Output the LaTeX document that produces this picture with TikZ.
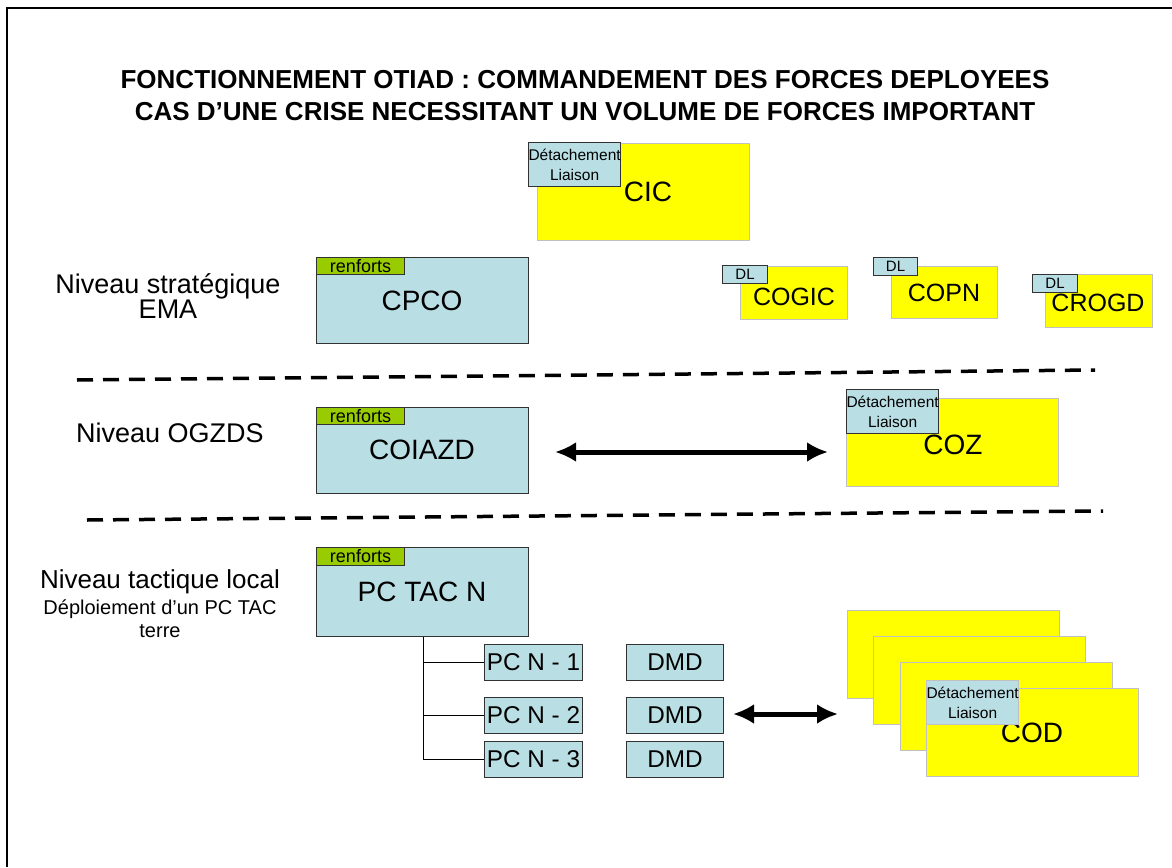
\documentclass[tikz,border=0pt]{standalone}
\usepackage{fontspec}
\setmainfont{Liberation Sans}
\usetikzlibrary{arrows.meta}
\definecolor{lblue}{RGB}{185,223,228}
\definecolor{tabgreen}{RGB}{153,204,0}
\definecolor{ygray}{RGB}{192,192,192}
\definecolor{bgray}{RGB}{50,50,50}
\definecolor{pyellow}{RGB}{255,255,0}
\newcommand{\fs}[1]{\fontsize{#1}{#1}\selectfont}
\begin{document}
\begin{tikzpicture}[x=1pt,y=-1pt,
  ybox/.style={draw=ygray, line width=1pt, fill=pyellow, inner sep=0pt, anchor=north west},
  bbox/.style={draw=bgray, line width=1pt, fill=lblue, inner sep=0pt, anchor=north west},
  tabbox/.style={draw=bgray, line width=1pt, fill=tabgreen, inner sep=0pt, anchor=north west, minimum width=88pt, minimum height=17pt, font=\fs{18}},
  dlbox/.style={bbox, minimum width=89pt, minimum height=44pt, align=center, font=\fontsize{15.5}{20}\selectfont},
  dlsmall/.style={bbox, minimum width=45pt, minimum height=18pt, font=\fs{15}},
  big/.style={font=\fs{28}},
  mid/.style={font=\fs{25}},
  small/.style={bbox, minimum width=98pt, minimum height=36pt, font=\fs{24.3}},
  lvl/.style={font=\fontsize{27}{25}\selectfont, align=center},
  dashline/.style={line width=3.5pt, dash pattern=on 16pt off 10pt},
  bigarrow/.style={line width=5pt, {Latex[length=21pt,width=20pt]}-{Latex[length=21pt,width=20pt]}},
  tree/.style={line width=1pt}]
\useasboundingbox (0,0) rectangle (1172,867);
% frame (top and left)
\draw[line width=2pt] (1172,8) -- (7,8) -- (7,867);
% title
\node[font=\bfseries\fs{26}, align=center] (title) at (585,96) {FONCTIONNEMENT OTIAD : COMMANDEMENT DES FORCES DEPLOYEES\\[6pt]CAS D’UNE CRISE NECESSITANT UN VOLUME DE FORCES IMPORTANT};
% level labels
\node[lvl] (l1) at (168,296) {Niveau stratégique\\EMA};
\node[lvl] (l2) at (170,433) {Niveau OGZDS};
\node[lvl, font=\fs{26}] (l3) at (160,582) {Niveau tactique local};
\node[font=\fontsize{20}{23}\selectfont, align=center] (l3b) at (160,619) {Déploiement d’un PC TAC\\terre};
% dashed separators
\coordinate (d1a) at (77,380); \coordinate (d1b) at (1095,370);
\coordinate (d2a) at (87,520); \coordinate (d2b) at (1103,511);
\draw[dashline] (d1a) -- (d1b);
\draw[dashline] (d2a) -- (d2b);
% CIC
\node[ybox, minimum width=212pt, minimum height=97pt] (cic) at (537,143) {};
\node[big] (cict) at (648,192) {CIC};
\node[dlbox] (cicdl) at (528,142) {Détachement\\Liaison};
% CPCO
\node[bbox, minimum width=212pt, minimum height=86pt] (cpco) at (316,257) {};
\node[big] (cpcot) at (422,301) {CPCO};
\node[tabbox] (cpcor) at (316,257) {renforts};
% COGIC, COPN, CROGD
\node[ybox, minimum width=107pt, minimum height=53pt] (cogic) at (740,266) {};
\node[mid] (cogict) at (794,297) {COGIC};
\node[dlsmall] (cogicdl) at (722,265) {DL};
\node[ybox, minimum width=106pt, minimum height=52pt] (copn) at (891,266) {};
\node[mid] (copnt) at (944,293) {COPN};
\node[dlsmall, minimum width=44pt] (copndl) at (873,257) {DL};
\node[ybox, minimum width=107pt, minimum height=53pt] (crogd) at (1045,274) {};
\node[mid] (crogdt) at (1098,303) {CROGD};
\node[dlsmall] (crogddl) at (1032,274) {DL};
% COIAZD
\node[bbox, minimum width=212pt, minimum height=86pt] (coiazd) at (316,407) {};
\node[big] (coiazdt) at (422,450) {COIAZD};
\node[tabbox] (coiazdr) at (316,407) {renforts};
% COZ
\node[ybox, minimum width=212pt, minimum height=88pt] (coz) at (846,398) {};
\node[big] (cozt) at (953,445) {COZ};
\node[dlbox] (cozdl) at (846,389) {Détachement\\Liaison};
\coordinate (a1a) at (555,452); \coordinate (a1b) at (828,452);
\draw[bigarrow] (a1a) -- (a1b);
% PC TAC N
\node[bbox, minimum width=212pt, minimum height=89pt] (pctac) at (316,547) {};
\node[big] (pctact) at (422,592) {PC TAC N};
\node[tabbox, minimum height=18pt] (pctacr) at (316,547) {renforts};
% PC N boxes
\node[small] (pcn1) at (484,644) {PC N - 1};
\node[small] (pcn2) at (484,697) {PC N - 2};
\node[small] (pcn3) at (484,741) {PC N - 3};
\node[small, minimum width=97pt] (dmd1) at (626,644) {DMD};
\node[small, minimum width=97pt] (dmd2) at (626,697) {DMD};
\node[small, minimum width=97pt] (dmd3) at (626,741) {DMD};
\draw[tree] (pctac.south -| 423,0) |- (pcn3.west);
\draw[tree] (pcn1.west -| 423,0) -- (pcn1.west);
\draw[tree] (pcn2.west -| 423,0) -- (pcn2.west);
% COD stack
\node[ybox, minimum width=212pt, minimum height=88pt] (cod1) at (847,610) {};
\node[ybox, minimum width=212pt, minimum height=88pt] (cod2) at (873,636) {};
\node[ybox, minimum width=212pt, minimum height=88pt] (cod3) at (900,662) {};
\node[ybox, minimum width=212pt, minimum height=88pt] (cod4) at (926,688) {};
\node[big] (codt) at (1032,733) {COD};
\node[dlbox, draw=ygray] (coddl) at (926,680) {Détachement\\Liaison};
\coordinate (a2a) at (733,714); \coordinate (a2b) at (838,714);
\draw[bigarrow] (a2a) -- (a2b);
\end{tikzpicture}
\end{document}
